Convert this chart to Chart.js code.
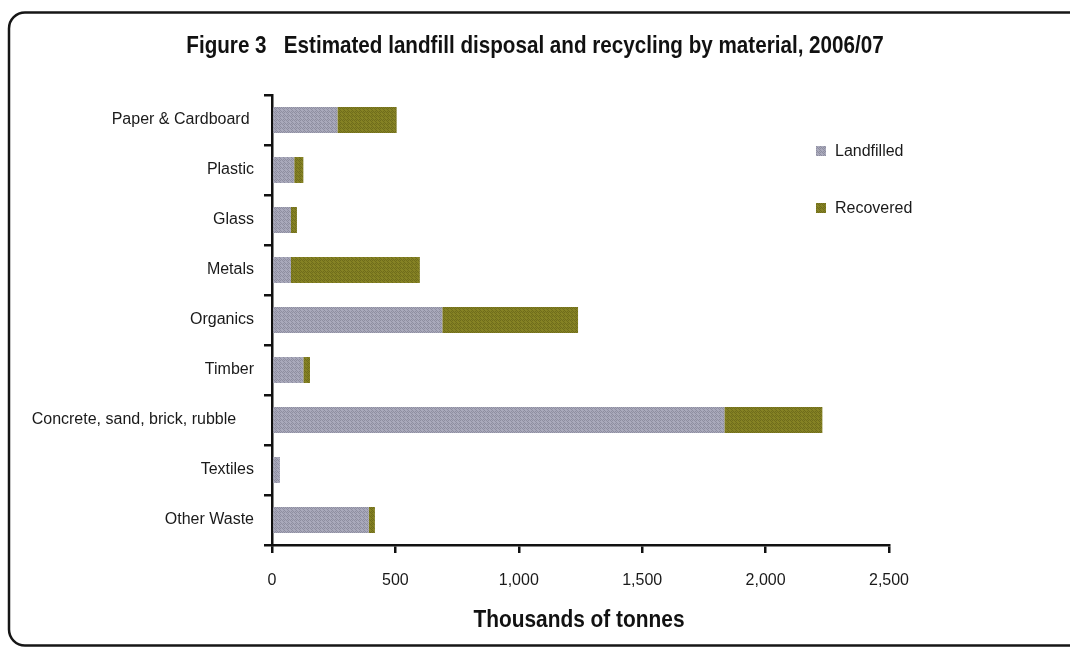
<!DOCTYPE html>
<html>
<head>
<meta charset="utf-8">
<script src="https://cdn.jsdelivr.net/npm/chart.js@4.4.1/dist/chart.umd.min.js"></script>
<style>
  html, body { margin: 0; padding: 0; background: #fff; }
  #wrap { width: 1070px; height: 648px; position: relative; }
</style>
</head>
<body>
<div id="wrap"><canvas id="chart" width="1070" height="648"></canvas></div>
<script>
// Material categories (top to bottom)
const categories = [
  'Paper & Cardboard ',
  'Plastic',
  'Glass',
  'Metals',
  'Organics',
  'Timber',
  'Concrete, sand, brick, rubble    ',
  'Textiles',
  'Other Waste'
];

// Thousands of tonnes, 2006/07
const landfilled = [265, 90, 77, 77, 690, 127, 1833, 32, 392];
const recovered  = [240, 37, 24, 522, 550, 27, 397, 0, 25];

// x-axis tick values
const xTicks = [0, 500, 1000, 1500, 2000, 2500];

const seriesNames = ['Landfilled', 'Recovered'];

const titleText = 'Figure 3   Estimated landfill disposal and recycling by material, 2006/07';
const xAxisTitle = 'Thousands of tonnes';

// Small dithered fills for the bars
function makePattern(light, dark) {
  const c = document.createElement('canvas');
  c.width = 4; c.height = 4;
  const g = c.getContext('2d');
  g.fillStyle = light; g.fillRect(0, 0, 4, 4);
  g.fillStyle = dark;
  [[0,0],[2,0],[1,1],[3,1],[0,2],[2,2],[1,3],[3,3]].forEach(([x, y], i) => {
    if (i % 3 !== 2) g.fillRect(x, y, 1, 1);
  });
  return g.createPattern(c, 'repeat');
}
const greyFill = makePattern('#a9a9bb', '#8e8ea0');
const oliveFill = makePattern('#858224', '#6f6c1b');

const SANS = '"Liberation Sans", Arial, sans-serif';

// Bold text squeezed horizontally to a narrow face
function narrowText(ctx, text, cx, cy, size, squeeze) {
  ctx.save();
  ctx.font = 'bold ' + size + 'px ' + SANS;
  ctx.textAlign = 'center';
  ctx.textBaseline = 'middle';
  ctx.translate(cx, cy);
  ctx.scale(squeeze, 1);
  ctx.fillText(text, 0, 0);
  ctx.restore();
}

// Frame, title, axis title and legend
const decorations = {
  id: 'decorations',
  beforeDraw(chart) {
    const ctx = chart.ctx;
    ctx.save();
    ctx.fillStyle = '#ffffff';
    ctx.fillRect(0, 0, chart.width, chart.height);
    ctx.restore();
  },
  afterDraw(chart) {
    const ctx = chart.ctx;
    ctx.save();

    // rounded frame (right edge runs past the canvas)
    ctx.strokeStyle = '#161616';
    ctx.lineWidth = 2.5;
    ctx.beginPath();
    ctx.roundRect(9, 12.5, 1090, 633, 16);
    ctx.stroke();

    // title
    ctx.fillStyle = '#111';
    narrowText(ctx, titleText, 535, 46, 24, 0.86);

    // x-axis title
    const xs = chart.scales.x;
    narrowText(ctx, xAxisTitle, 579, 620, 24, 0.87);

    // legend
    ctx.font = '16px ' + SANS;
    ctx.textAlign = 'left';
    ctx.textBaseline = 'middle';
    const rows = [151, 208];
    chart.data.datasets.forEach((ds, i) => {
      const y = rows[i];
      ctx.fillStyle = ds.backgroundColor;
      ctx.fillRect(816, y - 5, 10, 10);
      ctx.fillStyle = '#1a1a1a';
      ctx.fillText(ds.label, 835, y + 1);
    });
    ctx.restore();
  }
};

new Chart(document.getElementById('chart'), {
  type: 'bar',
  data: {
    labels: categories,
    datasets: [
      { label: seriesNames[0], data: landfilled, backgroundColor: greyFill },
      { label: seriesNames[1], data: recovered, backgroundColor: oliveFill }
    ]
  },
  options: {
    indexAxis: 'y',
    responsive: false,
    animation: false,
    devicePixelRatio: 1,
    layout: { padding: { top: 95, left: 0, right: 181, bottom: 0 } },
    datasets: {
      bar: { barPercentage: 0.52, categoryPercentage: 1.0, borderWidth: 0 }
    },
    plugins: {
      legend: { display: false },
      title: { display: false },
      tooltip: { enabled: false }
    },
    scales: {
      x: {
        stacked: true,
        min: 0,
        max: 2500,
        afterBuildTicks(scale) {
          scale.ticks = xTicks.map(v => ({ value: v }));
        },
        afterFit(scale) { scale.height = 103; },
        border: { display: true, color: '#111', width: 2.5 },
        grid: {
          drawOnChartArea: false,
          drawTicks: true,
          tickLength: 8,
          color: '#111',
          lineWidth: 2.5
        },
        ticks: {
          padding: 18,
          color: '#1a1a1a',
          font: { family: SANS, size: 16 },
          callback: v => v.toLocaleString('en-US')
        }
      },
      y: {
        stacked: true,
        afterFit(scale) { scale.width = 272; },
        border: { display: true, color: '#111', width: 2.5 },
        grid: {
          offset: true,
          drawOnChartArea: false,
          drawTicks: true,
          tickLength: 8,
          color: '#111',
          lineWidth: 2.5
        },
        ticks: {
          padding: 10,
          color: '#1a1a1a',
          font: { family: SANS, size: 16 }
        }
      }
    }
  },
  plugins: [decorations]
});
</script>
</body>
</html>
